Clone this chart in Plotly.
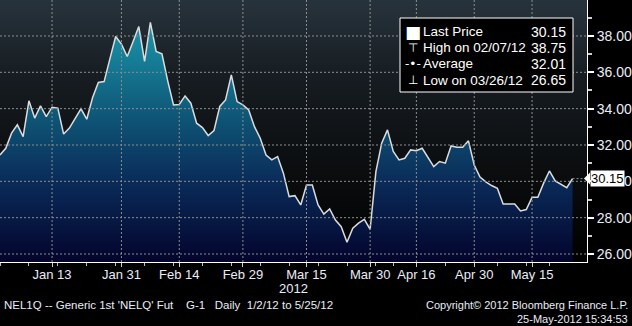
import pandas as pd
import plotly.graph_objects as go

# ---------------- data ----------------
START, END = "2012-01-02", "2012-05-25"
HOLIDAYS = ["2012-04-05", "2012-04-06", "2012-04-09", "2012-05-01", "2012-05-17"]
dates = [d.strftime("%Y-%m-%d") for d in pd.bdate_range(START, END) if d.strftime("%Y-%m-%d") not in HOLIDAYS]

prices = [
    31.45, 31.82, 32.65, 33.11, 32.46, 34.43, 33.48, 34.15, 33.56, 34.08,
    34.03, 32.60, 32.93, 33.50, 33.99, 33.42, 34.60, 35.44, 35.49, 36.74,
    37.97, 37.55, 36.87, 37.68, 38.52, 36.60, 38.75, 37.15, 37.02, 35.53,
    34.20, 34.23, 34.70, 34.30, 33.20, 32.96, 32.52, 32.79, 34.12, 34.48,
    35.86, 34.39, 34.21, 33.93, 33.01, 32.37, 31.45, 31.18, 31.36, 30.45,
    29.16, 29.21, 28.70, 29.80, 29.80, 28.70, 28.20, 28.48, 27.87, 27.50,
    26.65, 27.42, 27.70, 27.91, 27.36, 30.53, 32.10, 32.83, 31.64, 31.18,
    31.27, 31.73, 31.69, 31.82, 31.32, 30.81, 31.09, 31.00, 31.95, 31.88,
    31.88, 32.23, 30.90, 30.24, 29.97, 29.77, 29.62, 28.75, 28.75, 28.75,
    28.37, 28.45, 29.12, 29.12, 29.90, 30.57, 30.02, 29.83, 29.65, 30.15,
]

tick_dates = ["2012-01-13", "2012-01-31", "2012-02-14", "2012-02-29", "2012-03-15",
              "2012-03-30", "2012-04-16", "2012-04-30", "2012-05-15"]
tick_labels = ["Jan 13", "Jan 31", "Feb 14", "Feb 29", "Mar 15",
               "Mar 30", "Apr 16", "Apr 30", "May 15"]
y_ticks = [26, 28, 30, 32, 34, 36, 38]
y_minor = [27, 29, 31, 33, 35, 37, 39]

legend_labels = ["Last Price", "High on 02/07/12", "Average", "Low on 03/26/12"]
legend_values = ["30.15", "38.75", "32.01", "26.65"]
legend_icons = ["\u25A0", "\u22A4", "-\u2022-", "\u22A5"]
last_price = 30.15

footer_left = "NEL1Q -- Generic 1st 'NELQ' Fut    G-1   Daily  1/2/12 to 5/25/12"
footer_right1 = "Copyright\u00a9 2012 Bloomberg Finance L.P."
footer_right2 = "25-May-2012 15:34:53"
year_label = "2012"

# ---------------- layout geometry ----------------
W, H = 632, 326
PW, PH = 587, 262          # plot area in px (left=0, top=0)
YMIN, YMAX = 25.56, 39.98
XMIN, XMAX = 0, 101.5

x_idx = list(range(len(prices)))
tick_idx = [dates.index(d) for d in tick_dates]
week_idx = [i for i, d in enumerate(dates) if i == 0 or pd.Timestamp(d).weekday() < pd.Timestamp(dates[i - 1]).weekday()]


def px(x):
    return x / PW


def py(y):
    return 1 - y / PH


FONT = "Liberation Sans, Arial, sans-serif"
TXT = "#e9edf7"

fig = go.Figure()

# background gradient
fig.add_trace(go.Scatter(
    x=[XMIN, XMAX, XMAX, XMIN, XMIN], y=[YMIN, YMIN, YMAX, YMAX, YMIN],
    mode="none", fill="toself", hoverinfo="skip", showlegend=False,
    fillgradient=dict(type="vertical", start=YMIN, stop=YMAX,
                      colorscale=[[0, "#000000"], [0.35, "#0b0d0f"], [0.7, "#161c21"], [1, "#27333c"]]),
))

# price area
fig.add_trace(go.Scatter(
    x=x_idx, y=prices, mode="lines", fill="tozeroy", showlegend=False,
    line=dict(color="#dcdcdc", width=1.5),
    fillgradient=dict(type="vertical", start=YMIN, stop=YMAX,
                      colorscale=[[0, "#03042c"], [0.3, "#0a2a58"], [0.55, "#0e5576"],
                                  [0.8, "#17829a"], [1, "#22a0b4"]]),
))

shapes = []
GRID = dict(color="#8e8e8e", width=1, dash="2px,2px")
for yv in y_ticks:
    shapes.append(dict(type="line", xref="paper", yref="y", x0=0, x1=1, y0=yv, y1=yv,
                       line=GRID, layer="above"))
for xv in tick_idx:
    shapes.append(dict(type="line", xref="x", yref="paper", x0=xv, x1=xv, y0=0, y1=1,
                       line=GRID, layer="above"))
# last price dotted connector
shapes.append(dict(type="line", xref="x", yref="y", x0=x_idx[-1], x1=XMAX, y0=last_price, y1=last_price,
                   line=GRID, layer="above"))

# legend box
shapes.append(dict(type="rect", xref="paper", yref="paper", x0=px(400), x1=px(573), y0=py(92), y1=py(18),
                   fillcolor="#000000", line=dict(color="#ffffff", width=1), layer="above"))

# last price tag pointer
dy = 6 / (PH / (YMAX - YMIN))
shapes.append(dict(type="path", xref="paper", yref="y",
                   path=f"M {px(584)},{last_price} L {px(590)},{last_price + dy} L {px(590)},{last_price - dy} Z",
                   fillcolor="#ffffff", line=dict(color="#ffffff", width=0), layer="above"))

annotations = []
row_y = [31.5, 48, 64, 80]
for lbl, val, ico, ry in zip(legend_labels, legend_values, legend_icons, row_y):
    annotations.append(dict(xref="paper", yref="paper", x=px(413), y=py(ry), text=ico, showarrow=False,
                            xanchor="center", yanchor="middle",
                            font=dict(family="DejaVu Sans, sans-serif", size=12 if ico != "\u25A0" else 17, color="#ffffff")))
    annotations.append(dict(xref="paper", yref="paper", x=px(421), y=py(ry), text=lbl, showarrow=False,
                            xanchor="left", yanchor="middle", font=dict(family=FONT, size=13.5, color="#ffffff")))
    annotations.append(dict(xref="paper", yref="paper", x=px(568), y=py(ry), text=val, showarrow=False,
                            xanchor="right", yanchor="middle", font=dict(family=FONT, size=14, color="#ffffff")))

annotations.append(dict(xref="paper", yref="y", x=px(590), y=last_price, text=f"{last_price:.2f}",
                        showarrow=False, xanchor="left", yanchor="middle", bgcolor="#ffffff", borderpad=0,
                        font=dict(family=FONT, size=13, color="#000000")))

annotations.append(dict(xref="paper", yref="paper", x=px(293), y=py(288), text=year_label, showarrow=False,
                        xanchor="center", yanchor="middle", font=dict(family=FONT, size=13, color=TXT)))
annotations.append(dict(xref="paper", yref="paper", x=px(2), y=py(305), text=footer_left.replace(" ", "&nbsp;"),
                        showarrow=False, xanchor="left", yanchor="middle", font=dict(family=FONT, size=11.5, color=TXT)))
annotations.append(dict(xref="paper", yref="paper", x=px(630), y=py(305), text=footer_right1, showarrow=False,
                        xanchor="right", yanchor="middle", font=dict(family=FONT, size=11, color=TXT)))
annotations.append(dict(xref="paper", yref="paper", x=px(630), y=py(319), text=footer_right2, showarrow=False,
                        xanchor="right", yanchor="middle", font=dict(family=FONT, size=11, color=TXT)))

fig.update_layout(
    width=W, height=H, margin=dict(l=0, r=W - PW, t=0, b=H - PH),
    paper_bgcolor="#000000", plot_bgcolor="#000000",
    showlegend=False, shapes=shapes, annotations=annotations,
    xaxis=dict(range=[XMIN, XMAX], showgrid=False, zeroline=False, showline=True, linecolor="#ffffff",
               linewidth=1, tickmode="array", tickvals=tick_idx, ticktext=tick_labels, tickangle=0,
               ticks="outside", ticklen=4, tickcolor="#cfcfcf", ticklabelstandoff=-4,
               minor=dict(tickvals=week_idx, ticks="outside", ticklen=3, tickcolor="#bfbfbf", showgrid=False),
               tickfont=dict(family=FONT, size=13, color=TXT)),
    yaxis=dict(range=[YMIN, YMAX], side="right", showgrid=False, zeroline=False, showline=True,
               linecolor="#ffffff", linewidth=1, tickmode="array", tickvals=y_ticks,
               ticktext=[f"{v:.2f}" for v in y_ticks], ticks="outside", ticklen=6, tickwidth=2,
               tickcolor="#ffffff",
               minor=dict(tickvals=y_minor, ticks="outside", ticklen=4, tickcolor="#cfcfcf", showgrid=False),
               tickfont=dict(family=FONT, size=14, color=TXT)),
)

fig.write_html("out.html")
